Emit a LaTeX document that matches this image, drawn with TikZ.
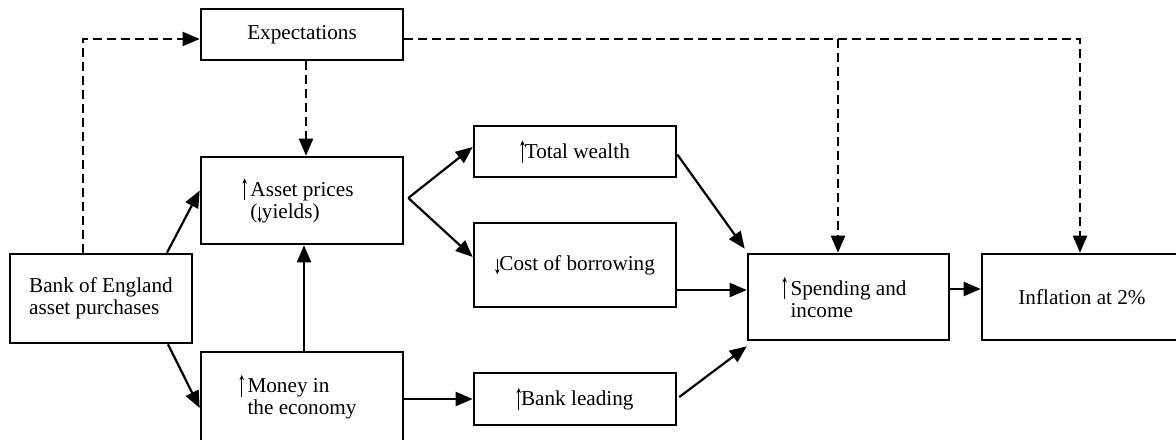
\documentclass[tikz,border=0pt]{standalone}
\usepackage{fontspec}
\setmainfont{Liberation Serif}
\usetikzlibrary{arrows.meta,calc}

% small thin arrows used inside the labels
\newcommand\upar{\tikz[baseline=0pt]{\draw[line width=0.45pt,solid,-{Stealth[length=2.6pt,width=2.3pt]}] (0pt,-2pt) -- (0pt,9pt);}}
\newcommand\dnar{\tikz[baseline=0pt]{\draw[line width=0.45pt,solid,-{Stealth[length=2.4pt,width=2.2pt]}] (0pt,5.8pt) -- (0pt,-2pt);}}

\begin{document}
\begin{tikzpicture}[x=0.5pt,y=-0.5pt,
  box/.style={draw, line width=1.3pt, inner sep=0pt, align=left,
    font=\fontsize{10.6}{11}\selectfont},
  link/.style={line width=1.1pt, -{Triangle[length=8.5pt,width=7pt]}},
  dlink/.style={link, dash pattern=on 4.5pt off 2.5pt}]
\useasboundingbox (0,0) rectangle (1176,439);
\clip (0,0) rectangle (1176,439);

% boxes (centres and sizes in px of the 1176 x 439 canvas)
\node[box, minimum width=101pt, minimum height=25.5pt] (exp)    at (302,34.5)  {Expectations};
\node[box, minimum width=101pt, minimum height=43.5pt] (asset)  at (302,200.5) {\llap{\upar\,}Asset prices\\(\dnar yields)};
\node[box, minimum width=91pt,  minimum height=44.5pt] (boe)    at (101,298.5) {Bank of England\\asset purchases};
\node[box, minimum width=101pt, minimum height=45pt]   (money)  at (302,397)   {\llap{\upar\,}Money in\\the economy};
\node[box, minimum width=101pt, minimum height=25.5pt] (wealth) at (575,151.5) {\upar Total wealth};
\node[box, minimum width=101pt, minimum height=42pt]   (cost)   at (575,265)   {\dnar Cost of borrowing};
\node[box, minimum width=101pt, minimum height=26pt]   (lend)   at (575,399)   {\upar Bank leading};
\node[box, minimum width=100.5pt, minimum height=43pt] (spend)  at (848.5,297) {\llap{\upar\,}Spending and\\income};
\node[box, minimum width=100pt, minimum height=43pt]   (infl)   at (1082,297)  {Inflation at 2\%};

% dashed expectation channel
\coordinate (j1) at (838,39);
\coordinate (j2) at (1080,39);
\draw[dlink] ([xshift=-9pt]boe.north) |- ([yshift=-2.25pt]exp.west);
\draw[dlink] ([xshift=2pt]exp.south) -- ([xshift=2pt]asset.north);
\draw[dlink] ([yshift=-2.25pt]exp.east) -| (j2 |- infl.north);
\draw[dlink] (j1) -- (j1 |- spend.north);

% solid transmission links
\draw[link] ([xshift=33pt]boe.north) -- ([yshift=5pt]asset.west);
\draw[link] ([xshift=33.5pt]boe.south) -- ([yshift=-5.5pt]money.west);
\draw[link] ([xshift=1pt]money.north) -- ([xshift=1pt]asset.south);
\coordinate (apex) at ([xshift=2pt,yshift=1.25pt]asset.east);
\draw[link] (apex) -- ([yshift=2.25pt]wealth.west);
\draw[link] (apex) -- ([yshift=4pt]cost.west);
\draw[link] (lend.west -| money.east) -- (lend.west);
\draw[link] ([yshift=-1.5pt]wealth.east) -- ([xshift=-1pt,yshift=2pt]spend.north west);
\coordinate (ci) at ([yshift=3.5pt]spend.west);
\draw[link] (ci -| cost.east) -- (ci);
\draw[link] ([xshift=1pt,yshift=1pt]lend.east) -- ([yshift=-2.5pt]spend.south west);
\coordinate (si) at ([yshift=4pt]spend.east);
\draw[link] (si) -- (si -| infl.west);
\end{tikzpicture}
\end{document}
